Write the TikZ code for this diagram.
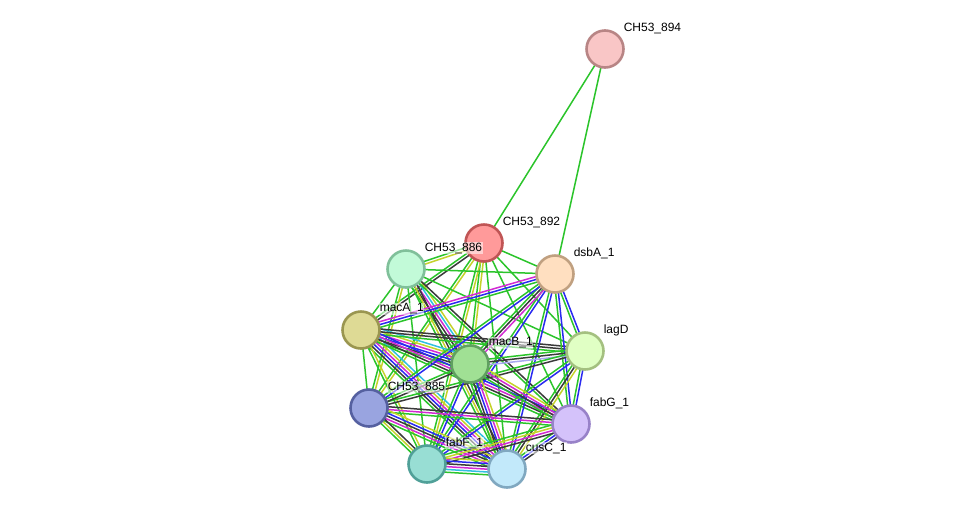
\documentclass[tikz,border=0pt]{standalone}
\usepackage{fontspec}
\setmainfont{Liberation Sans}
\usetikzlibrary{calc}
\pgfdeclarelayer{bg}
\pgfsetlayers{bg,main}
\definecolor{cG}{HTML}{2BC42B}
\definecolor{cK}{HTML}{3A3A3A}
\definecolor{cB}{HTML}{2A2AF0}
\definecolor{cM}{HTML}{D22AD2}
\definecolor{cY}{HTML}{C4D22A}
\definecolor{cC}{HTML}{30C0E0}
\definecolor{cL}{HTML}{A8A8F0}
\newcommand\sedge[3]{%
  \foreach \c [count=\i] in {#3} {\xdef\nlines{\i}}%
  \foreach \c [count=\i] in {#3} {%
    \pgfmathsetmacro\off{(\i-(\nlines+1)/2)*2.8}%
    \draw[edgeln,\c] ($(#1.center)!\off pt!90:(#2.center)$) -- ($(#2.center)!\off pt!-90:(#1.center)$);
  }}
\newcommand\prot[5]{%
  \definecolor{f#1}{HTML}{#4}\definecolor{d#1}{HTML}{#5}%
  \node[protein,fill=f#1,draw=d#1] (#1) at (#2) {};
  \node[lbl] (l#1) at ($(#1)+(18,-21)$) {#3};
}
\begin{document}
\begin{tikzpicture}[x=1pt,y=-1pt,
  protein/.style={circle,minimum size=37pt,inner sep=0pt,line width=2.6pt},
  lbl/.style={anchor=west,font=\fontsize{12}{14}\selectfont,inner sep=0.6pt,fill=white,fill opacity=0.55,text opacity=1},
  edgeln/.style={line width=1.5pt}]
\useasboundingbox (0,0) rectangle (976,515);
\prot{p894}{605,49}{CH53\_894}{F9C6C6}{B88585}
\prot{p892}{484,243}{CH53\_892}{FF9A9A}{C05555}
\prot{p886}{406,269}{CH53\_886}{C2FAD8}{80C09A}
\prot{dsbA}{555,274}{dsbA\_1}{FFDFC0}{C0A080}
\prot{macA}{361,330}{macA\_1}{DEDA95}{9A9650}
\prot{lagD}{585,351}{lagD}{E0FFC4}{A4C080}
\prot{macB}{470,364}{macB\_1}{A0E094}{60A060}
\prot{p885}{369,408}{CH53\_885}{99A4E0}{5560A0}
\prot{fabG}{571,424}{fabG\_1}{D4C2FA}{9882C8}
\prot{fabF}{427,464}{fabF\_1}{98DED4}{50A098}
\prot{cusC}{507,469}{cusC\_1}{C2E9FA}{80A8C0}
\begin{pgfonlayer}{bg}
\sedge{p892}{p894}{cG}
\sedge{dsbA}{p894}{cG}
\sedge{p892}{p886}{cG,cY}
\sedge{p892}{dsbA}{cG}
\sedge{p892}{macA}{cG,cK}
\sedge{p892}{lagD}{cG}
\sedge{p892}{macB}{cG,cY}
\sedge{p892}{p885}{cG,cY}
\sedge{p892}{fabG}{cG}
\sedge{p892}{fabF}{cG,cY}
\sedge{p892}{cusC}{cG}
\sedge{p886}{dsbA}{cG}
\sedge{p886}{macA}{cG}
\sedge{p886}{lagD}{cG}
\sedge{p886}{macB}{cG,cK,cM,cC,cY}
\sedge{p886}{cusC}{cG,cY,cK}
\sedge{p886}{fabG}{cG,cK}
\sedge{p886}{p885}{cG,cY}
\sedge{p886}{fabF}{cG}
\sedge{macA}{macB}{cG,cK,cB,cM,cY,cC}
\sedge{macA}{cusC}{cG,cK,cB,cM,cY,cC}
\sedge{macA}{dsbA}{cG,cB,cM}
\sedge{macA}{lagD}{cG,cK,cK}
\sedge{macA}{p885}{cG}
\sedge{macA}{fabF}{cG,cY}
\sedge{macA}{fabG}{cG,cK,cM,cB}
\sedge{dsbA}{lagD}{cG,cB}
\sedge{dsbA}{fabG}{cG,cB}
\sedge{dsbA}{cusC}{cG,cB}
\sedge{dsbA}{fabF}{cG,cB}
\sedge{dsbA}{macB}{cG,cK,cM}
\sedge{dsbA}{p885}{cG,cB}
\sedge{lagD}{macB}{cG,cK,cL}
\sedge{lagD}{p885}{cG,cK}
\sedge{lagD}{fabG}{cG,cB}
\sedge{lagD}{cusC}{cG,cK,cY}
\sedge{lagD}{fabF}{cG,cB}
\sedge{macB}{p885}{cG,cK}
\sedge{macB}{fabG}{cG,cK,cM,cY}
\sedge{macB}{cusC}{cG,cK,cB,cM,cY}
\sedge{macB}{fabF}{cG,cB}
\sedge{p885}{fabG}{cG,cM,cK}
\sedge{p885}{cusC}{cG,cM,cK,cB,cY}
\sedge{p885}{fabF}{cG,cY,cK}
\sedge{fabG}{cusC}{cG,cB,cK}
\sedge{fabG}{fabF}{cG,cY,cM,cK}
\sedge{fabF}{cusC}{cG,cC,cM,cK,cB,cY}
\end{pgfonlayer}
\end{tikzpicture}
\end{document}
